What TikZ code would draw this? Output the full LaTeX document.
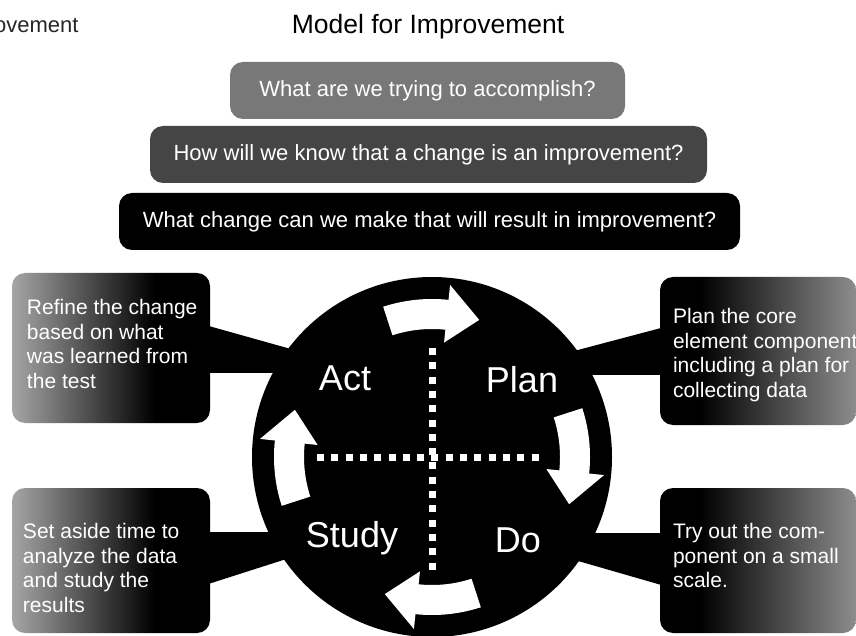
\documentclass[tikz,border=0pt]{standalone}
\usepackage{fontspec}
\setmainfont{Liberation Sans}
\usetikzlibrary{positioning}

% gray -> black and black -> gray fills of the four callouts
\pgfdeclarehorizontalshading{fadeleft}{100bp}{color(0bp)=(black!35); color(25bp)=(black!35); color(61bp)=(black); color(100bp)=(black)}
\pgfdeclarehorizontalshading{faderight}{100bp}{color(0bp)=(black); color(35bp)=(black); color(75bp)=(black!45); color(100bp)=(black!45)}

% white arrow on the ring: #1 tail angle, #2 tip angle (clockwise)
\newcommand\cyclearrow[2]{%
  \fill[white] ([shift={(pdsa.center)}]#1:158) arc[start angle=#1, end angle={#2+13}, radius=158]
    -- ([shift={(pdsa.center)}]{#2+13}:173) -- ([shift={(pdsa.center)}]#2:145)
    -- ([shift={(pdsa.center)}]{#2+13}:115) -- ([shift={(pdsa.center)}]{#2+13}:128)
    arc[start angle={#2+13}, end angle=#1, radius=128] -- cycle;}

\begin{document}
\begin{tikzpicture}[x=1pt,y=1pt,
  question/.style={rounded corners=13pt,minimum height=57pt,text=white,font=\fontsize{22}{26}\selectfont},
  calloutbox/.style={rounded corners=13pt,minimum width=198pt,inner sep=0pt},
  callout/.style={align=left,inner sep=0pt,text=white,font=\fontsize{21}{24.5}\selectfont},
  phase/.style={text=white,font=\fontsize{36}{40}\selectfont},
  dotline/.style={white,line width=7pt,dash pattern=on 7pt off 7.3pt}]
	\useasboundingbox (0,0) rectangle (856,635);
	\clip (0,0) rectangle (856,635);

	% Titles
	\node[anchor=east,text=black!85,font=\fontsize{22}{26}\selectfont] (prev) at (82,608) {Model for Improvement};
	\node[font=\fontsize{26.5}{30}\selectfont] (title) at (428,608) {Model for Improvement};

	% The three questions
	\node[question,fill=black!53,minimum width=395pt] (aim) at (427.5,544.5) {What are we trying to accomplish?};
	\node[question,fill=black!73,minimum width=557pt] (measure) at (428.5,480.5) {How will we know that a change is an improvement?};
	\node[question,fill=black,minimum width=621pt] (change) at (429.5,413.5) {What change can we make that will result in improvement?};

	% PDSA circle
	\node[circle,fill=black,minimum size=360pt,inner sep=0pt] (pdsa) at (432,178) {};

	% Callout boxes
	\node[calloutbox,shading=fadeleft,minimum height=150pt] (actbox) at (111,287) {};
	\node[calloutbox,shading=faderight,minimum width=196pt,minimum height=148pt] (planbox) at (758,284) {};
	\node[calloutbox,shading=fadeleft,minimum height=145pt] (studybox) at (111,74.5) {};
	\node[calloutbox,shading=faderight,minimum width=196pt,minimum height=145pt] (dobox) at (758,74.5) {};

	% wedges from callouts to the circle
	\fill ([xshift=-5pt,yshift=23pt]actbox.east) -- (330,275) -- (330,262) -- ([xshift=-5pt,yshift=-25pt]actbox.east) -- cycle;
	\fill ([xshift=5pt,yshift=24pt]planbox.west) -- (540,275) -- (540,260) -- ([xshift=5pt,yshift=-24pt]planbox.west) -- cycle;
	\fill ([xshift=-5pt,yshift=28.5pt]studybox.east) -- (330,103) -- (330,90) -- ([xshift=-5pt,yshift=-24.5pt]studybox.east) -- cycle;
	\fill ([xshift=5pt,yshift=27.5pt]dobox.west) -- (540,102) -- (540,85) -- ([xshift=5pt,yshift=-25.5pt]dobox.west) -- cycle;

	% Callout texts
	\node[callout,anchor=west] (acttext) at ([xshift=15pt,yshift=4pt]actbox.west)
		{Refine the change\\based on what\\was learned from\\the test};
	\node[callout,anchor=west] (plantext) at ([xshift=13pt,yshift=-4pt]planbox.west)
		{Plan the core\\element component\\including a plan for\\collecting data};
	\node[callout,anchor=west] (studytext) at ([xshift=11pt,yshift=-7.5pt]studybox.west)
		{Set aside time to\\analyze the data\\and study the\\results};
	\node[callout,anchor=west] (dotext) at ([xshift=13pt,yshift=5pt]dobox.west)
		{Try out the com-\\ponent on a small\\scale.};

	% cycle arrows
	\cyclearrow{108}{71}
	\cyclearrow{18}{-19}
	\cyclearrow{-72}{-109}
	\cyclearrow{198}{161}

	% quadrants
	\draw[dotline] ([yshift=109pt]pdsa.center) -- ([yshift=-115pt]pdsa.center);
	\draw[dotline] ([xshift=-115pt]pdsa.center) -- ([xshift=113pt]pdsa.center);

	\node[phase] (act) at (345,257) {Act};
	\node[phase] (plan) at (522,255) {Plan};
	\node[phase] (study) at (352,97) {Study};
	\node[phase] (do) at (518,95) {Do};
\end{tikzpicture}
\end{document}
